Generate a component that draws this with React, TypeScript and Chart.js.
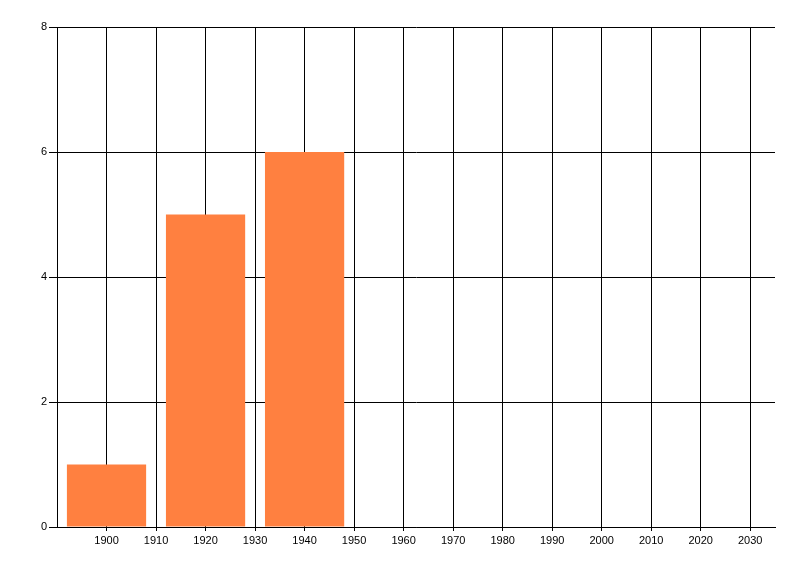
import React, { useEffect, useRef } from "react";
import { Chart, registerables } from "chart.js";

Chart.register(...registerables);

const years = [1900, 1920, 1940];
const counts = [1, 5, 6];
const xTickYears = [1900, 1910, 1920, 1930, 1940, 1950, 1960, 1970, 1980, 1990, 2000, 2010, 2020, 2030];
const yTickValues = [0, 2, 4, 6, 8];

const FONT = { family: "'Liberation Sans', Arial, sans-serif", size: 11 };

export default function App() {
  const ref = useRef<HTMLCanvasElement | null>(null);

  useEffect(() => {
    if (!ref.current) return;
    const chart = new Chart(ref.current, {
      type: "bar",
      data: {
        datasets: [
          {
            data: years.map((x, i) => ({ x, y: counts[i] })),
            backgroundColor: "rgb(255,128,64)",
            borderWidth: 0,
            barPercentage: 1.6,
            categoryPercentage: 1,
          },
        ],
      },
      options: {
        responsive: false,
        animation: false,
        layout: { padding: { top: 27, right: 25, left: 0, bottom: 0 } },
        plugins: { legend: { display: false }, tooltip: { enabled: false } },
        scales: {
          x: {
            type: "linear",
            offset: false,
            min: 1890,
            max: 2035,
            afterBuildTicks: (scale: any) => {
              scale.ticks = xTickYears.map((v) => ({ value: v }));
            },
            afterFit: (scale: any) => {
              scale.height = 49;
            },
            grid: {
              offset: false,
              color: "#000",
              lineWidth: 1,
              tickLength: 4,
              tickColor: "#000",
              drawOnChartArea: true,
            },
            border: { display: true, color: "#000", width: 1 },
            ticks: {
              color: "#000",
              font: FONT,
              padding: 3,
              maxRotation: 0,
              autoSkip: false,
              callback: (v: any) => String(v),
            },
          },
          y: {
            type: "linear",
            min: 0,
            max: 8,
            afterBuildTicks: (scale: any) => {
              scale.ticks = yTickValues.map((v) => ({ value: v }));
            },
            afterFit: (scale: any) => {
              scale.width = 57;
            },
            grid: {
              color: "#000",
              lineWidth: 1,
              tickLength: 8,
              tickColor: "#000",
            },
            border: { display: true, color: "#000", width: 1 },
            ticks: {
              color: "#000",
              font: FONT,
              padding: 2,
              callback: (v: any) => String(v),
            },
          },
        },
      },
    });
    return () => chart.destroy();
  }, []);

  return (
    <div style={{ position: "absolute", left: 0, top: 0, width: 800, height: 576, background: "#fff" }}>
      <canvas ref={ref} width={800} height={576} style={{ display: "block" }} />
    </div>
  );
}
